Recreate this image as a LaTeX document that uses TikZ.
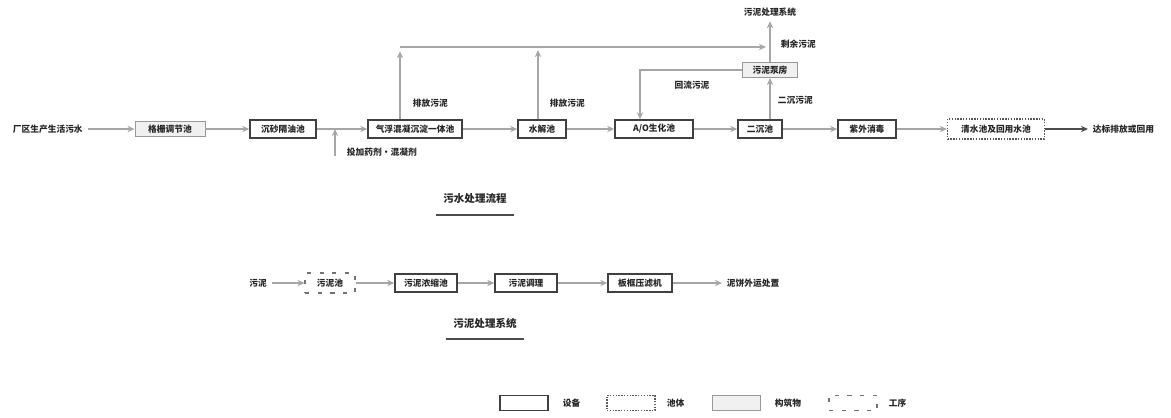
\documentclass[tikz,border=0pt]{standalone}
\usepackage{fontspec}
\setmainfont{Noto Sans CJK SC}
\usetikzlibrary{arrows.meta}

\begin{document}
\begin{tikzpicture}[x=0.025cm, y=-0.025cm, >={Stealth[open, length=5pt, width=4.5pt]},
    every node/.style={font=\fontsize{6.2}{7}\selectfont\bfseries, text=black!85},
    sb/.style={draw=black!75, line width=1.1pt, inner sep=1pt, minimum height=0.45cm},
    pool/.style={draw=black!65, densely dotted, line width=1pt, inner sep=1pt, minimum height=0.5cm},
    build/.style={draw=black!40, line width=0.6pt, fill=black!6, inner sep=1pt, minimum height=0.38cm},
    proc/.style={draw=black!55, dash pattern=on 3pt off 6pt, line width=0.8pt, inner sep=1pt, minimum height=0.5cm},
    flow/.style={->, draw=black!35, line width=1.5pt},
    captxt/.style={font=\fontsize{7.5}{8}\selectfont\bfseries, inner xsep=5pt}]
    \useasboundingbox (0,0) rectangle (1171,417);

    % 污水处理流程
    \node[anchor=west] (src) at (8,129) {厂区生产生活污水};
    \node[build, minimum width=1.75cm] (b1) at (170,129) {格栅调节池};
    \node[sb, minimum width=1.65cm] (b2) at (283,129) {沉砂隔油池};
    \node[sb, minimum width=2.35cm] (b3) at (415,129) {气浮混凝沉淀一体池};
    \node[sb, minimum width=1.2cm] (b4) at (542,129) {水解池};
    \node[sb, minimum width=1.95cm] (b5) at (654,129) {A/O生化池};
    \node[sb, minimum width=1.1cm] (b6) at (760,129) {二沉池};
    \node[sb, minimum width=1.45cm] (b7) at (867,129) {紫外消毒};
    \node[pool, minimum width=2.42cm] (b8) at (996,129) {清水池及回用水池};
    \node[anchor=west] (dst) at (1088,129) {达标排放或回用};

    \draw[flow] (src) -- (b1);
    \draw[flow] (b1) -- (b2);
    \draw[flow] (b2) -- (b3);
    \draw[flow] (b3) -- (b4);
    \draw[flow] (b4) -- (b5);
    \draw[flow] (b5) -- (b6);
    \draw[flow] (b6) -- (b7);
    \draw[flow] (b7) -- (b8);
    \draw[flow, draw=black!70] (b8) -- (dst);

    % 加药
    \coordinate (dose) at (335,156);
    \node[anchor=west] (dl) at (342,152) {投加药剂·混凝剂};
    \draw[flow, line width=0.8pt] (dose) -- (dose |- b2);

    % 污泥回流及排泥
    \node[build, minimum width=1.375cm] (pb) at (770,70) {污泥泵房};
    \node (sys) at (770,12) {污泥处理系统};
    \coordinate (ca) at (400,47);
    \coordinate (cb) at (766,47);
    \coordinate (rc) at (640,70);
    \draw[flow] (b3.north -| ca) -- ([yshift=-3pt]ca);
    \draw[flow] (b4.north -| 538,0) -- (538,50);
    \draw[flow] (ca) -- (cb);
    \draw[flow] (b6.north -| pb) -- (pb);
    \draw[flow] (pb) -- (sys);
    \draw[flow, line width=0.9pt] (pb) -- (rc) -- (b5.north -| rc);

    % 标注
    \node[anchor=west] (l1) at (408,103) {排放污泥};
    \node[anchor=west] (l2) at (545,103) {排放污泥};
    \node (l3) at (692,85) {回流污泥};
    \node[anchor=west] (l4) at (773,100) {二沉污泥};
    \node[anchor=west] (l5) at (776,44) {剩余污泥};

    \node[captxt] (cap1) at (475,199) {污水处理流程};
    \draw[line width=1.6pt, black!70] ([yshift=-4pt]cap1.south west) -- ([yshift=-4pt]cap1.south east);

    % 污泥处理系统
    \node (sl) at (258,283) {污泥};
    \node[proc, minimum width=1.25cm] (s1) at (330,283) {污泥池};
    \node[sb, minimum width=1.55cm] (s2) at (426,283) {污泥浓缩池};
    \node[sb, minimum width=1.55cm] (s3) at (526,283) {污泥调理};
    \node[sb, minimum width=1.6cm] (s4) at (640,283) {板框压滤机};
    \node[anchor=west] (sd) at (722,283) {泥饼外运处置};

    \draw[flow] (sl) -- (s1);
    \draw[flow] (s1) -- (s2);
    \draw[flow] (s2) -- (s3);
    \draw[flow] (s3) -- (s4);
    \draw[flow] (s4) -- (sd);

    \node[captxt] (cap2) at (485,323) {污泥处理系统};
    \draw[line width=1.6pt, black!70] ([yshift=-4pt]cap2.south west) -- ([yshift=-4pt]cap2.south east);

    % 图例
    \node[sb, minimum width=1.2cm, minimum height=0.38cm] (g1) at (524,403) {};
    \node[anchor=west] (t1) at (558,403) {设备};
    \node[pool, minimum width=1.2cm, minimum height=0.38cm] (g2) at (631,403) {};
    \node[anchor=west] (t2) at (662,403) {池体};
    \node[build, minimum width=1.2cm] (g3) at (736,403) {};
    \node[anchor=west] (t3) at (770,403) {构筑物};
    \node[proc, minimum width=1.2cm, minimum height=0.38cm] (g4) at (853,403) {};
    \node[anchor=west] (t4) at (884,403) {工序};
\end{tikzpicture}
\end{document}
